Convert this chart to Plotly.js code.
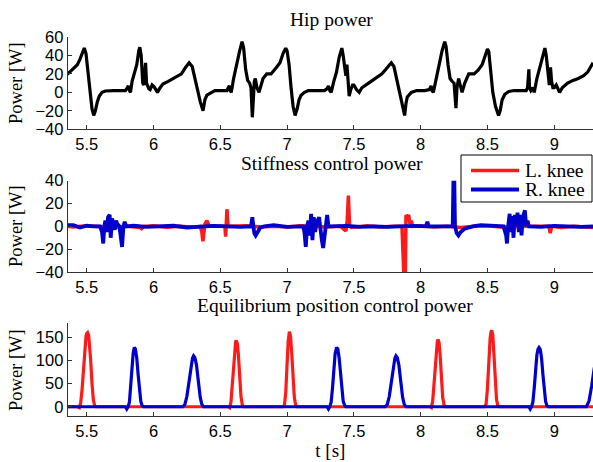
<!DOCTYPE html>
<html>
<head>
<meta charset="utf-8">
<script src="https://cdn.plot.ly/plotly-3.0.1.min.js"></script>
<style>html,body{margin:0;padding:0;background:#fff;}#chart{width:593px;height:462px;}</style>
</head>
<body>
<div id="chart"></div>
<script>
// ---- Data ----
const xTicks = [5.5, 6, 6.5, 7, 7.5, 8, 8.5, 9];
const xTickLabels = ['5.5', '6', '6.5', '7', '7.5', '8', '8.5', '9'];
const hipTicks = [-40, -20, 0, 20, 40, 60];
const stiffTicks = [-40, -20, 0, 20, 40];
const eqTicks = [0, 50, 100, 150];
const seriesNames = ['L. knee', 'R. knee'];
const panelTitles = ['Hip power', 'Stiffness control power', 'Equilibrium position control power'];

const hipT = [5.355,5.38,5.41,5.43,5.45,5.47,5.482,5.495,5.51,5.525,5.54,5.553,5.565,5.58,5.595,5.615,5.64,5.70,5.75,5.79,5.80,5.812,5.82,5.828,5.84,5.86,5.875,5.89,5.898,5.908,5.92,5.927,5.935,5.941,5.948,5.955,5.965,5.975,5.99,6.005,6.02,6.03,6.045,6.07,6.11,6.16,6.21,6.24,6.267,6.29,6.31,6.33,6.35,6.371,6.385,6.40,6.43,6.46,6.52,6.55,6.56,6.568,6.575,6.582,6.60,6.62,6.645,6.663,6.675,6.69,6.705,6.72,6.73,6.74,6.748,6.755,6.762,6.775,6.79,6.80,6.82,6.848,6.88,6.92,6.947,6.97,6.99,7.00,7.015,7.03,7.045,7.06,7.075,7.09,7.105,7.13,7.16,7.22,7.28,7.30,7.31,7.32,7.33,7.35,7.37,7.39,7.41,7.42,7.432,7.44,7.448,7.455,7.465,7.475,7.49,7.50,7.52,7.54,7.56,7.61,7.66,7.71,7.74,7.78,7.80,7.82,7.84,7.86,7.88,7.89,7.90,7.93,7.97,8.03,8.065,8.078,8.085,8.095,8.115,8.135,8.16,8.18,8.19,8.205,8.22,8.235,8.25,8.264,8.272,8.284,8.295,8.31,8.33,8.36,8.40,8.43,8.46,8.48,8.50,8.51,8.525,8.54,8.56,8.583,8.595,8.61,8.63,8.66,8.70,8.79,8.80,8.81,8.815,8.825,8.84,8.85,8.87,8.896,8.915,8.93,8.94,8.955,8.963,8.972,8.98,8.99,9.00,9.015,9.03,9.04,9.06,9.10,9.14,9.18,9.22,9.25,9.27,9.29];
const hipP = [19.5,23,27,30,36,45,48,42,20,0,-18,-25,-20,-10,-4,0,1.5,2,2,2,4,7,2,0,12,22,30,45,49,40,10,8,30,32,10,7,4,3,8,6,2,0,4,9,12,16,20,27,32,28,15,0,-10,-20,-8,-3,0,2,2,2,5,7,2,0,15,30,45,55,48,25,13,10,5,-27,-5,12,15,5,0,5,15,20,20,27,32,42,48,45,30,5,-15,-25,-18,-8,-3,0,2,2,2,4,7,2,0,12,22,38,48,40,22,18,30,12,-4,2,8,8,3,0,5,10,15,20,25,32,28,15,0,-10,-25,-12,-5,0,2,2,3,7,2,0,15,30,45,55,50,30,15,12,10,-17,5,15,8,0,10,20,20,24,30,40,47,44,25,0,-15,-25,-20,-8,-2,1,2,2,5,25,5,2,5,0,15,30,42,48,40,12,8,27,12,5,5,8,3,0,5,10,13,15,18,22,27,32];

const stiffLT = [5.355,5.40,5.50,5.60,5.70,5.80,5.90,5.91,5.93,6.00,6.10,6.20,6.30,6.35,6.362,6.37,6.378,6.385,6.40,6.415,6.43,6.535,6.54,6.545,6.55,6.558,6.57,6.70,6.80,6.90,7.00,7.10,7.20,7.30,7.40,7.44,7.45,7.459,7.468,7.48,7.60,7.70,7.80,7.86,7.875,7.885,7.89,7.90,7.91,7.92,7.93,7.94,8.00,8.10,8.20,8.30,8.40,8.50,8.60,8.70,8.80,8.96,8.97,8.98,9.05,9.15,9.29];
const stiffLP = [0,-0.5,0.5,-0.5,-1,0,-1,-2,0,0.5,-0.8,0,-0.8,0,-5,-13,-3,2,5,1,0,0,-9,0,15,0,0,0.5,-0.5,0,-0.5,0.5,0,-0.5,0,-4,5,27,0,-1,0.5,-0.5,0,0,-45,-45,10,8,10,2,5,0,0.5,-0.5,0,-1,0,0.5,-0.5,0,0,0,-6,0,-1,0,-1];

const stiffRT = [5.355,5.40,5.45,5.50,5.55,5.60,5.615,5.624,5.632,5.64,5.65,5.66,5.672,5.68,5.69,5.70,5.71,5.72,5.73,5.745,5.755,5.765,5.775,5.785,5.795,5.85,5.95,6.05,6.15,6.25,6.35,6.45,6.55,6.65,6.73,6.74,6.748,6.755,6.765,6.78,6.80,6.83,6.90,7.00,7.08,7.12,7.13,7.14,7.15,7.16,7.17,7.18,7.19,7.20,7.21,7.22,7.24,7.25,7.26,7.27,7.28,7.29,7.30,7.31,7.35,7.45,7.55,7.65,7.75,7.85,7.95,8.04,8.05,8.06,8.15,8.24,8.245,8.252,8.257,8.27,8.283,8.30,8.33,8.39,8.45,8.55,8.62,8.64,8.646,8.655,8.666,8.675,8.685,8.695,8.705,8.715,8.725,8.735,8.745,8.755,8.765,8.78,8.79,8.80,8.81,8.90,9.00,9.10,9.20,9.29];
const stiffRP = [1,1,-1,0.5,0,0,-5,-15,0,5,-5,8,10,-10,7,3,-3,5,2,0,-8,-18,0,4,0,0.5,-0.5,0,0.5,-1,0,0.5,0,-0.5,0,8,0,-6,-8,-5,-1,0,1,-0.5,0,0,-5,-18,0,5,-8,11,-12,8,-5,3,8,-5,-12,-19,-10,5,10,0,0,0.5,-0.5,0,-0.5,0,0.5,0,4,0,0,0,40,40,0,-6,-8,-5,-2,0,1,0,0,-8,-15,0,11,-5,9,-10,10,0,12,-5,10,-8,8,14,0,5,0,-0.5,0.5,0,-0.5,0];

const eqLT = [5.355,5.43,5.445,5.455,5.465,5.475,5.485,5.495,5.50,5.507,5.515,5.522,5.53,5.54,5.55,5.56,5.57,6.56,6.57,6.58,6.59,6.60,6.608,6.615,6.62,6.628,6.635,6.645,6.655,6.665,6.675,6.97,6.98,6.99,7.0,7.008,7.017,7.026,7.035,7.045,7.055,7.065,7.075,8.07,8.08,8.09,8.10,8.11,8.118,8.125,8.13,8.138,8.145,8.155,8.165,8.175,8.185,8.48,8.49,8.50,8.51,8.52,8.527,8.532,8.54,8.548,8.558,8.568,8.578,8.588,9.29];
const eqLP = [0,0,-2,8,35,80,128,152,158,160,154,135,100,50,15,2,0,0,-2,10,45,95,128,140,143,136,115,65,22,4,0,0,3,30,95,140,162,152,115,60,18,3,0,0,-2,12,50,100,130,142,145,138,115,65,20,4,0,0,6,40,105,148,162,165,155,120,60,15,2,0,0];

const eqRT = [5.355,5.79,5.80,5.81,5.82,5.83,5.84,5.848,5.856,5.865,5.875,5.885,5.895,5.905,5.915,5.925,6.22,6.235,6.25,6.265,6.28,6.292,6.30,6.31,6.322,6.335,6.35,6.362,6.375,7.30,7.31,7.32,7.33,7.34,7.35,7.36,7.371,7.38,7.39,7.40,7.41,7.42,7.432,7.44,7.735,7.75,7.765,7.78,7.795,7.807,7.815,7.825,7.837,7.85,7.865,7.877,7.89,8.81,8.82,8.83,8.84,8.85,8.86,8.87,8.878,8.886,8.895,8.905,8.915,8.925,8.935,8.945,8.955,9.24,9.26,9.28,9.30];
const eqRP = [0,0,-5,0,10,40,85,115,128,125,105,70,35,12,2,0,0,5,22,55,90,105,110,106,90,55,20,5,0,0,-5,0,10,40,85,115,128,125,105,70,35,12,2,0,0,5,22,55,90,105,110,106,90,55,20,5,0,0,-5,0,10,40,85,112,124,128,124,105,70,35,12,2,0,0,12,45,85];

// ---- Styling ----
const RED = '#ff1a1a', BLUE = '#0000cc';
const W = 593, H = 462;
const xRange = [5.358, 9.29];
const tickFont = {family: 'Liberation Sans, Arial, sans-serif', size: 16.5, color: '#000'};
const serif = 'Liberation Serif, Times New Roman, serif';

function xAxis(anchor) {
  return {
    domain: [67.7 / W, 1], range: xRange, anchor: anchor,
    tickvals: xTicks, ticktext: xTickLabels, ticks: 'inside', ticklen: 4,
    tickcolor: '#333', showline: true, linecolor: '#333', linewidth: 1,
    showgrid: false, zeroline: false, tickfont: tickFont, fixedrange: true
  };
}
function yAxis(anchor, top, bottom, range, vals) {
  return {
    domain: [1 - bottom / H, 1 - top / H], range: range, anchor: anchor,
    tickvals: vals, ticks: 'inside', ticklen: 4, tickcolor: '#333',
    showline: true, linecolor: '#333', linewidth: 1, showgrid: false,
    zeroline: false, tickfont: tickFont, fixedrange: true
  };
}

const traces = [
  {x: hipT, y: hipP, xaxis: 'x', yaxis: 'y', mode: 'lines', name: 'Hip', line: {color: '#000', width: 3.2}, showlegend: false},
  {x: stiffLT, y: stiffLP, xaxis: 'x2', yaxis: 'y2', mode: 'lines', name: seriesNames[0], line: {color: RED, width: 3.5}, showlegend: false},
  {x: stiffRT, y: stiffRP, xaxis: 'x2', yaxis: 'y2', mode: 'lines', name: seriesNames[1], line: {color: BLUE, width: 3.8}, showlegend: false},
  {x: eqLT, y: eqLP, xaxis: 'x3', yaxis: 'y3', mode: 'lines', name: seriesNames[0], line: {color: RED, width: 3.2}, showlegend: false},
  {x: eqRT, y: eqRP, xaxis: 'x3', yaxis: 'y3', mode: 'lines', name: seriesNames[1], line: {color: BLUE, width: 3.2}, showlegend: false}
];

function ann(text, xpx, ypx, size, angle, anchor) {
  return {text: text, x: xpx / W, y: 1 - ypx / H, xref: 'paper', yref: 'paper',
    xanchor: anchor || 'center', yanchor: 'middle', showarrow: false, textangle: angle || 0,
    font: {family: serif, size: size, color: '#000'}};
}
function pShape(type, x0, y0, x1, y1, line, fill) {
  return {type: type, xref: 'paper', yref: 'paper', x0: x0 / W, x1: x1 / W,
    y0: 1 - y0 / H, y1: 1 - y1 / H, line: line, fillcolor: fill, layer: 'above'};
}

// legend box (drawn as shapes + text so that its size matches the reference)
const legendShapes = [
  pShape('rect', 461, 155, 592, 202, {color: '#000', width: 1}, '#fff'),
  pShape('line', 471, 170.5, 519, 170.5, {color: RED, width: 3.5}),
  pShape('line', 471, 189.5, 519, 189.5, {color: BLUE, width: 3.8})
];

const layout = {
  width: W, height: H, margin: {l: 0, r: 0, t: 0, b: 0},
  paper_bgcolor: '#fff', plot_bgcolor: '#fff', showlegend: false,
  xaxis: xAxis('y'), yaxis: yAxis('x', 37, 129.3, [-40, 60], hipTicks),
  xaxis2: xAxis('y2'), yaxis2: yAxis('x2', 180.7, 272, [-40, 40], stiffTicks),
  xaxis3: Object.assign(xAxis('y3'), {title: {text: 't [s]', font: {family: serif, size: 19, color: '#000'}, standoff: 3}}),
  yaxis3: yAxis('x3', 323.4, 416, [-20, 180], eqTicks),
  shapes: legendShapes,
  annotations: [
    ann(panelTitles[0], 332, 20, 19.5),
    ann(panelTitles[1], 332, 163, 19.5),
    ann(panelTitles[2], 335, 305, 19.5),
    ann('Power [W]', 16, 83, 18.5, -90),
    ann('Power [W]', 16, 226, 18.5, -90),
    ann('Power [W]', 16, 370, 18.5, -90),
    ann(seriesNames[0], 523, 170, 19.5, 0, 'left'),
    ann(seriesNames[1], 523, 190, 19.5, 0, 'left')
  ]
};

Plotly.newPlot('chart', traces, layout, {displayModeBar: false, staticPlot: true});
</script>
</body>
</html>
